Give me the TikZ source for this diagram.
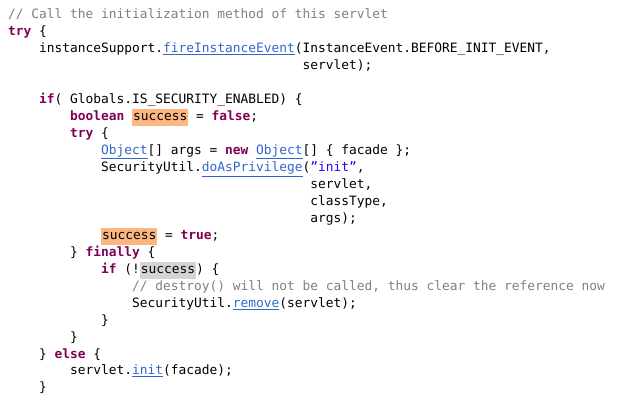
\documentclass[tikz,border=0pt]{standalone}
\usepackage{fontspec}
\setmainfont[Ligatures=ResetAll]{DejaVu Sans Mono}
\definecolor{kw}{HTML}{7F0055}
\definecolor{cm}{HTML}{808080}
\definecolor{lk}{HTML}{3366CC}
\definecolor{st}{HTML}{2A00FF}
\definecolor{hlo}{HTML}{FDB682}
\definecolor{hlg}{HTML}{D4D4D4}
\newcommand\kw[1]{\textcolor{kw}{\bfseries #1}}
\newcommand\lnk[1]{\textcolor{lk}{\underline{#1}}}
\newcommand\hlbox[2]{{\setlength\fboxsep{1pt}\colorbox{#1}{\strut #2}}}
\begin{document}
\begin{tikzpicture}[x=1pt,y=1pt,
  ln/.style={anchor=base west,inner sep=0pt,font=\fontsize{12.87}{15}\selectfont}]
\fill[white] (0,0) rectangle (620,415);
\useasboundingbox (0,0) rectangle (620,415);
\def\L#1#2#3{\node[ln] (l#1) at ({8+7.75*#2},{415-19-16.95*(#1-1)}) {#3};}
\L{1}{0}{\textcolor{cm}{// Call the initialization method of this servlet}}
\L{2}{0}{\kw{try} \{}
\L{3}{4}{instanceSupport.\lnk{fireInstanceEvent}(InstanceEvent.BEFORE\_INIT\_EVENT,}
\L{4}{38}{servlet);}
\L{6}{4}{\kw{if}( Globals.IS\_SECURITY\_ENABLED) \{}
\L{7}{8}{\kw{boolean} \hlbox{hlo}{success} = \kw{false};}
\L{8}{8}{\kw{try} \{}
\L{9}{12}{\lnk{Object}[] args = \kw{new} \lnk{Object}[] \{ facade \};}
\L{10}{12}{SecurityUtil.\lnk{doAsPrivilege}(\textcolor{st}{"init"},}
\L{11}{39}{servlet,}
\L{12}{39}{classType,}
\L{13}{39}{args);}
\L{14}{12}{\hlbox{hlo}{success} = \kw{true};}
\L{15}{8}{\} \kw{finally} \{}
\L{16}{12}{\kw{if} (!\hlbox{hlg}{success}) \{}
\L{17}{16}{\textcolor{cm}{// destroy() will not be called, thus clear the reference now}}
\L{18}{16}{SecurityUtil.\lnk{remove}(servlet);}
\L{19}{12}{\}}
\L{20}{8}{\}}
\L{21}{4}{\} \kw{else} \{}
\L{22}{8}{servlet.\lnk{init}(facade);}
\L{23}{4}{\}}
\end{tikzpicture}
\end{document}
